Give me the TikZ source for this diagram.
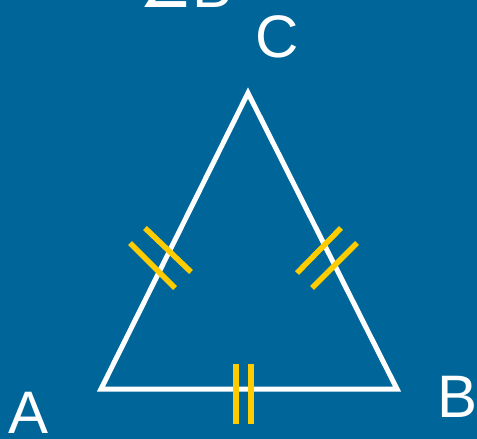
\documentclass[tikz,border=0pt]{standalone}
\usepackage{fontspec}
\setmainfont{Liberation Sans}
\newfontfamily\symfont{DejaVu Sans}
\usepackage{tikz}
\definecolor{bgblue}{HTML}{006699}
\definecolor{tickyellow}{HTML}{FFCC00}

\begin{document}
\begin{tikzpicture}[
        x=1pt, y=-1pt,
        side/.style={draw=white, line width=5pt, miter limit=20},
        tick/.style={draw=tickyellow, line width=5.5pt},
        lbl/.style={text=white, anchor=base, inner sep=0pt, font={\fontsize{60}{72}\selectfont}}
    ]
        \useasboundingbox (0,0) rectangle (477,439);
        \fill[bgblue] (0,0) rectangle (477,439);
        \coordinate (A) at (101,389);
        \coordinate (B) at (397,389);
        \coordinate (C) at (248,93);
        \draw[side] (A) -- (B) -- (C) -- cycle;
        % equal-length marks
        \draw[tick] (130,243) -- (175,288);
        \draw[tick] (145,228) -- (191,272);
        \draw[tick] (341,228) -- (297,273);
        \draw[tick] (357,243) -- (312,288);
        \draw[tick] (236,364) -- (236,424);
        \draw[tick] (251,364) -- (251,424);
        \node[lbl] (labA) at (29,433) {A};
        \node[lbl] (labB) at (458,417) {B};
        \node[lbl] (labC) at (277,57) {C};
        \begin{scope}
            \clip (0,0) rectangle (477,439);
            \node[lbl] (angB) at (186,7) {{\symfont ∠}B};
        \end{scope}
    \end{tikzpicture}
\end{document}
